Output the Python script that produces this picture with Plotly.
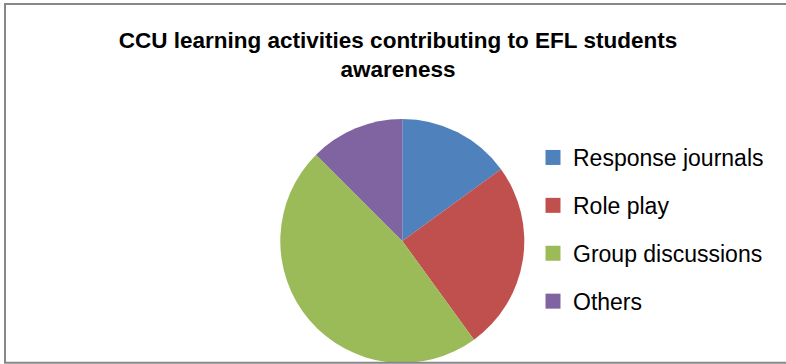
import plotly.graph_objects as go

labels = ["Response journals", "Role play", "Group discussions", "Others"]
values = [15, 25, 47.5, 12.5]
colors = ["#4F81BD", "#C0504D", "#9BBB59", "#8064A2"]
title_text = "CCU learning activities contributing to EFL students<br>awareness"

W, H = 786, 364

fig = go.Figure()
fig.add_trace(go.Pie(
    labels=labels, values=values, sort=False, direction="clockwise", rotation=0,
    marker=dict(colors=colors, line=dict(width=0)),
    textinfo="none", hoverinfo="label+percent", showlegend=False,
    domain=dict(x=[280.3 / W, 524.3 / W], y=[1 - 363 / H, 1 - 119 / H]),
))
# legend entries (one group per label for spacing)
for lab, col in zip(labels, colors):
    fig.add_trace(go.Scatter(
        x=[None], y=[None], mode="markers", name=lab, legendgroup=lab,
        marker=dict(symbol="square", size=15, color=col, line=dict(width=0)),
        showlegend=True,
    ))

fig.update_layout(
    width=W, height=H,
    margin=dict(l=0, r=0, t=0, b=0),
    paper_bgcolor="white", plot_bgcolor="white",
    xaxis=dict(visible=False), yaxis=dict(visible=False),
    title=dict(text=title_text, x=398 / W, xanchor="center", y=1 - 48 / H, yanchor="top",
               font=dict(family="Liberation Sans", size=22.5, color="black", weight="bold")),
    legend=dict(x=533 / W, xanchor="left", y=1 - 136 / H, yanchor="top",
                font=dict(family="Liberation Sans", size=23, color="black"),
                tracegroupgap=15, bgcolor="rgba(0,0,0,0)", traceorder="grouped"),
    shapes=[dict(type="rect", xref="paper", yref="paper",
                 x0=5 / W, x1=792 / W, y0=1 - 362.7 / H, y1=1 - 4 / H,
                 line=dict(color="#878787", width=2), fillcolor="rgba(0,0,0,0)")],
)

fig.write_html("out.html")
